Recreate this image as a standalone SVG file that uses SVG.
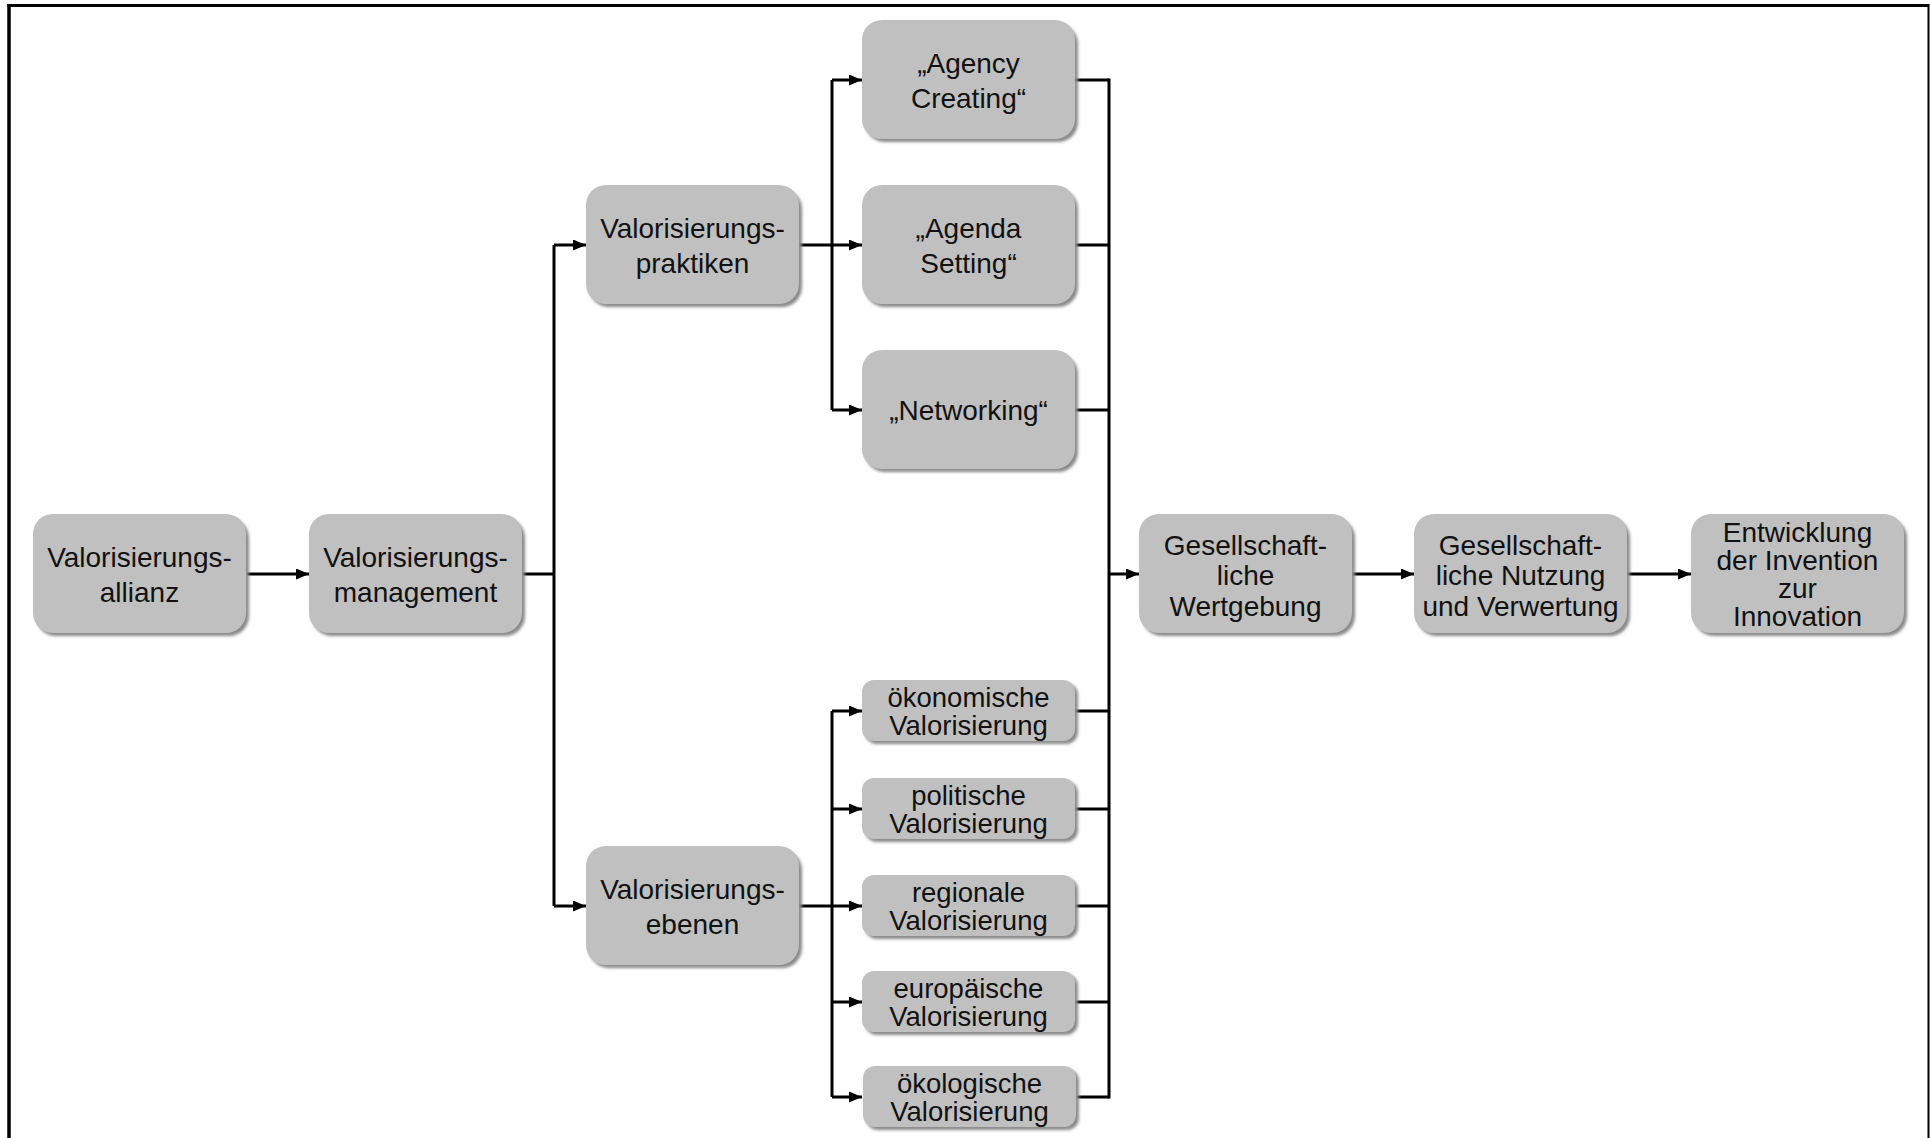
<svg xmlns="http://www.w3.org/2000/svg" width="1930" height="1138" viewBox="0 0 1930 1138">
<style>
.box{fill:#c0c0c0}
.sh{fill:#8a8a8a;filter:url(#blur)}
.t{font-family:"Liberation Sans",Arial,sans-serif;font-size:28px;fill:#111;text-anchor:middle}
.s{font-size:27.5px}
.c{fill:none;stroke:#000;stroke-width:3}
.frame{stroke:#000;fill:none}
</style>
<defs>
<filter id="blur" x="-10%" y="-10%" width="120%" height="120%"><feGaussianBlur stdDeviation="1.5"/></filter>
<marker id="ah" viewBox="0 0 13 11" refX="13" refY="5.5" markerWidth="13" markerHeight="11" markerUnits="userSpaceOnUse" orient="auto"><path d="M0,0 L13,5.5 L0,11 z" fill="#000"/></marker>
</defs>
<rect width="1930" height="1138" fill="#fff"/>
<g id="frame">
<line class="frame" x1="9" y1="4" x2="9" y2="1138" stroke-width="3.5"/>
<line class="frame" x1="7.5" y1="5.5" x2="1929" y2="5.5" stroke-width="3"/>
<line class="frame" x1="1928.5" y1="4" x2="1928.5" y2="1138" stroke-width="2"/>
</g>
<g id="connectors">
<path class="c" d="M246,574 H309" marker-end="url(#ah)"/>
<path class="c" d="M522,574 H554"/>
<path class="c" d="M554,245 V906"/>
<path class="c" d="M554,245 H586" marker-end="url(#ah)"/>
<path class="c" d="M554,906 H586" marker-end="url(#ah)"/>
<path class="c" d="M799,245 H832"/>
<path class="c" d="M832,80 V410"/>
<path class="c" d="M832,80 H862" marker-end="url(#ah)"/>
<path class="c" d="M832,245 H862" marker-end="url(#ah)"/>
<path class="c" d="M832,410 H862" marker-end="url(#ah)"/>
<path class="c" d="M799,906 H832"/>
<path class="c" d="M832,711 V1097"/>
<path class="c" d="M832,711 H862" marker-end="url(#ah)"/>
<path class="c" d="M832,809 H862" marker-end="url(#ah)"/>
<path class="c" d="M832,906 H862" marker-end="url(#ah)"/>
<path class="c" d="M832,1002 H862" marker-end="url(#ah)"/>
<path class="c" d="M832,1097 H862" marker-end="url(#ah)"/>
<path class="c" d="M1075,80 H1109 M1075,245 H1109 M1075,410 H1109 M1075,711 H1109 M1075,809 H1109 M1075,906 H1109 M1075,1002 H1109 M1075,1097 H1109"/>
<path class="c" d="M1109,78.5 V1098.5" stroke-width="4"/>
<path class="c" d="M1109,574 H1139" marker-end="url(#ah)"/>
<path class="c" d="M1352,574 H1414" marker-end="url(#ah)"/>
<path class="c" d="M1627,574 H1691" marker-end="url(#ah)"/>
</g>
<g id="n1"><rect class="sh" x="36" y="518" width="213" height="118" rx="20"/><rect class="box" x="33" y="514" width="213" height="119" rx="20"/><text class="t" x="139.5" y="567">Valorisierungs-</text><text class="t" x="139.5" y="602">allianz</text></g>
<g id="n2"><rect class="sh" x="312" y="518" width="213" height="118" rx="20"/><rect class="box" x="309" y="514" width="213" height="119" rx="20"/><text class="t" x="415.5" y="567">Valorisierungs-</text><text class="t" x="415.5" y="602">management</text></g>
<g id="n3"><rect class="sh" x="589" y="189" width="213" height="118" rx="20"/><rect class="box" x="586" y="185" width="213" height="119" rx="20"/><text class="t" x="692.5" y="238">Valorisierungs-</text><text class="t" x="692.5" y="273">praktiken</text></g>
<g id="n4"><rect class="sh" x="589" y="850" width="213" height="118" rx="20"/><rect class="box" x="586" y="846" width="213" height="119" rx="20"/><text class="t" x="692.5" y="899">Valorisierungs-</text><text class="t" x="692.5" y="934">ebenen</text></g>
<g id="n5"><rect class="sh" x="865" y="24" width="213" height="118" rx="20"/><rect class="box" x="862" y="20" width="213" height="119" rx="20"/><text class="t" x="968.5" y="73">„Agency</text><text class="t" x="968.5" y="108">Creating“</text></g>
<g id="n6"><rect class="sh" x="865" y="189" width="213" height="118" rx="20"/><rect class="box" x="862" y="185" width="213" height="119" rx="20"/><text class="t" x="968.5" y="238">„Agenda</text><text class="t" x="968.5" y="273">Setting“</text></g>
<g id="n7"><rect class="sh" x="865" y="354" width="213" height="118" rx="20"/><rect class="box" x="862" y="350" width="213" height="119" rx="20"/><text class="t" x="968.5" y="420">„Networking“</text></g>
<g id="n8"><rect class="sh" x="865" y="683" width="213" height="61" rx="12"/><rect class="box" x="862" y="680" width="213" height="61" rx="12"/><text class="t s" x="968.5" y="707">ökonomische</text><text class="t s" x="968.5" y="735">Valorisierung</text></g>
<g id="n9"><rect class="sh" x="865" y="781" width="213" height="61" rx="12"/><rect class="box" x="862" y="778" width="213" height="61" rx="12"/><text class="t s" x="968.5" y="805">politische</text><text class="t s" x="968.5" y="833">Valorisierung</text></g>
<g id="n10"><rect class="sh" x="865" y="878" width="213" height="61" rx="12"/><rect class="box" x="862" y="875" width="213" height="61" rx="12"/><text class="t s" x="968.5" y="902">regionale</text><text class="t s" x="968.5" y="930">Valorisierung</text></g>
<g id="n11"><rect class="sh" x="865" y="974" width="213" height="61" rx="12"/><rect class="box" x="862" y="971" width="213" height="61" rx="12"/><text class="t s" x="968.5" y="998">europäische</text><text class="t s" x="968.5" y="1026">Valorisierung</text></g>
<g id="n12"><rect class="sh" x="866" y="1069" width="213" height="61" rx="12"/><rect class="box" x="863" y="1066" width="213" height="61" rx="12"/><text class="t s" x="969.5" y="1093">ökologische</text><text class="t s" x="969.5" y="1121">Valorisierung</text></g>
<g id="n13"><rect class="sh" x="1142" y="518" width="213" height="118" rx="20"/><rect class="box" x="1139" y="514" width="213" height="119" rx="20"/><text class="t" x="1245.5" y="555">Gesellschaft-</text><text class="t" x="1245.5" y="585">liche</text><text class="t" x="1245.5" y="616">Wertgebung</text></g>
<g id="n14"><rect class="sh" x="1417" y="518" width="213" height="118" rx="20"/><rect class="box" x="1414" y="514" width="213" height="119" rx="20"/><text class="t" x="1520.5" y="555">Gesellschaft-</text><text class="t" x="1520.5" y="585">liche Nutzung</text><text class="t" x="1520.5" y="616">und Verwertung</text></g>
<g id="n15"><rect class="sh" x="1694" y="518" width="213" height="118" rx="20"/><rect class="box" x="1691" y="514" width="213" height="119" rx="20"/><text class="t" x="1797.5" y="542">Entwicklung</text><text class="t" x="1797.5" y="570">der Invention</text><text class="t" x="1797.5" y="598">zur</text><text class="t" x="1797.5" y="626">Innovation</text></g>
</svg>
